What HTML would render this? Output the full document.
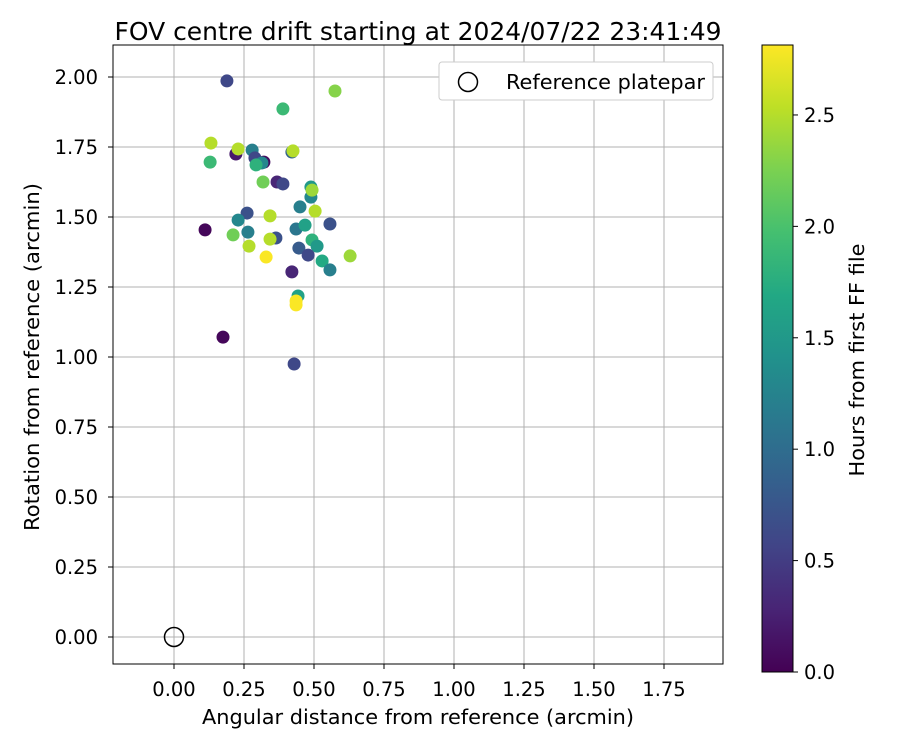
<!DOCTYPE html>
<html><head><meta charset="utf-8"><style>
body{margin:0;background:#fff}
svg text{font-family:"DejaVu Sans","Liberation Sans",sans-serif;fill:#000}
</style></head><body>
<svg id="chart" width="900" height="750" xmlns="http://www.w3.org/2000/svg">
<defs>
<linearGradient id="vir" x1="0" y1="1" x2="0" y2="0">
<stop offset="0" stop-color="#440154"/><stop offset="0.1" stop-color="#482475"/><stop offset="0.2" stop-color="#414487"/><stop offset="0.3" stop-color="#355f8d"/><stop offset="0.4" stop-color="#2a788e"/><stop offset="0.5" stop-color="#21918c"/><stop offset="0.6" stop-color="#22a884"/><stop offset="0.7" stop-color="#44bf70"/><stop offset="0.8" stop-color="#7ad151"/><stop offset="0.9" stop-color="#bddf26"/><stop offset="1" stop-color="#fde725"/>
</linearGradient>
<clipPath id="pc"><rect x="113" y="45" width="610" height="619"/></clipPath>
</defs>
<g id="grid"></g>
<g id="pts" clip-path="url(#pc)"></g>
<circle cx="174" cy="637" r="9.5" fill="none" stroke="#000" stroke-width="1.5"/>
<rect x="113" y="45" width="610" height="619" fill="none" stroke="#000" stroke-width="1"/>
<g id="axes"></g>
<text x="418" y="40" font-size="24.5" text-anchor="middle" textLength="607" lengthAdjust="spacingAndGlyphs">FOV centre drift starting at 2024/07/22 23:41:49</text>
<text x="418" y="724" font-size="20.5" text-anchor="middle" textLength="432" lengthAdjust="spacingAndGlyphs">Angular distance from reference (arcmin)</text>
<text transform="translate(39,357) rotate(-90)" font-size="20.5" text-anchor="middle" textLength="348" lengthAdjust="spacingAndGlyphs">Rotation from reference (arcmin)</text>
<g>
<rect x="439" y="62" width="274" height="38" rx="3" fill="#fff" stroke="#ccc"/>
<circle cx="468" cy="82" r="9.5" fill="none" stroke="#000" stroke-width="1.5"/>
<text x="506" y="89" font-size="20.5" textLength="199" lengthAdjust="spacingAndGlyphs">Reference platepar</text>
</g>
<rect x="762" y="45" width="31" height="627" fill="url(#vir)" stroke="#000" stroke-width="1"/>
<g id="cbax"></g>
<text transform="translate(864,360) rotate(-90)" font-size="20.5" text-anchor="middle" textLength="233" lengthAdjust="spacingAndGlyphs">Hours from first FF file</text>
</svg>
<script>
const xs=[0.189,0.575,0.389,0.132,0.129,0.221,0.229,0.279,0.289,0.321,0.314,0.293,0.421,0.425,0.318,0.368,0.389,0.489,0.489,0.493,0.504,0.450,0.261,0.343,0.111,0.229,0.211,0.264,0.364,0.343,0.268,0.329,0.436,0.468,0.557,0.493,0.511,0.446,0.479,0.529,0.557,0.629,0.421,0.443,0.436,0.436,0.175,0.429];
const ys=[1.986,1.950,1.886,1.764,1.696,1.725,1.743,1.739,1.711,1.696,1.693,1.686,1.732,1.736,1.625,1.625,1.618,1.607,1.571,1.596,1.521,1.536,1.514,1.504,1.454,1.489,1.436,1.446,1.425,1.421,1.396,1.357,1.457,1.471,1.475,1.418,1.396,1.389,1.364,1.343,1.311,1.361,1.304,1.218,1.200,1.186,1.071,0.975];
const hours=[0.6,2.3,1.9,2.5,1.9,0.2,2.5,1.2,0.6,0.1,1.3,1.8,0.9,2.5,2.2,0.3,0.6,1.5,1.3,2.4,2.5,1.2,0.7,2.5,0.05,1.3,2.2,1.2,0.7,2.5,2.5,2.8,1.1,1.6,0.7,1.8,1.5,0.8,0.6,1.7,1.2,2.4,0.3,1.6,2.8,2.8,0.05,0.6];
const xTicks=[0,0.25,0.5,0.75,1,1.25,1.5,1.75];
const yTicks=[0,0.25,0.5,0.75,1,1.25,1.5,1.75,2];
const cTicks=[0,0.5,1,1.5,2,2.5];
const X=v=>174+v*280, Y=v=>637-v*280, C=v=>672-v*(627/2.814);
const vir=["#440154","#482475","#414487","#355f8d","#2a788e","#21918c","#22a884","#44bf70","#7ad151","#bddf26","#fde725"];
function hx(c){return [1,3,5].map(i=>parseInt(c.substr(i,2),16));}
function col(h){let t=Math.max(0,Math.min(1,h/2.814))*10;let i=Math.min(9,Math.floor(t)),f=t-i;let a=hx(vir[i]),b=hx(vir[i+1]);return "rgb("+a.map((v,k)=>Math.round(v+(b[k]-v)*f)).join(",")+")";}
const NS="http://www.w3.org/2000/svg";
function mk(tag,at,parent,txt){const e=document.createElementNS(NS,tag);for(const k in at)e.setAttribute(k,at[k]);if(txt!==undefined)e.textContent=txt;parent.appendChild(e);return e;}
const grid=document.getElementById('grid'),axes=document.getElementById('axes'),pts=document.getElementById('pts'),cb=document.getElementById('cbax');
xTicks.forEach(t=>{const x=X(t);
let g=mk('line',{x1:x,x2:x,y1:45,y2:664,stroke:'#b0b0b0','stroke-width':1},grid);


mk('line',{x1:x,x2:x,y1:664,y2:669,stroke:'#000'},axes);
let l=mk('text',{x:x,y:696,'font-size':19.5,'text-anchor':'middle'},axes,t.toFixed(2));

});
yTicks.forEach(t=>{const y=Y(t);
let g=mk('line',{x1:113,x2:723,y1:y,y2:y,stroke:'#b0b0b0','stroke-width':1},grid);


mk('line',{x1:108,x2:113,y1:y,y2:y,stroke:'#000'},axes);
let l=mk('text',{x:98,y:y+7,'font-size':19.5,'text-anchor':'end'},axes,t.toFixed(2));

});
xs.forEach((v,i)=>{let c=mk('circle',{cx:X(v),cy:Y(ys[i]),r:6.5,fill:col(hours[i])},pts);

});
cTicks.forEach(t=>{const y=C(t);
mk('line',{x1:793,x2:798,y1:y,y2:y,stroke:'#000'},cb);
let l=mk('text',{x:804,y:y+7,'font-size':19.5},cb,t.toFixed(1));

});
</script>
</body></html>
